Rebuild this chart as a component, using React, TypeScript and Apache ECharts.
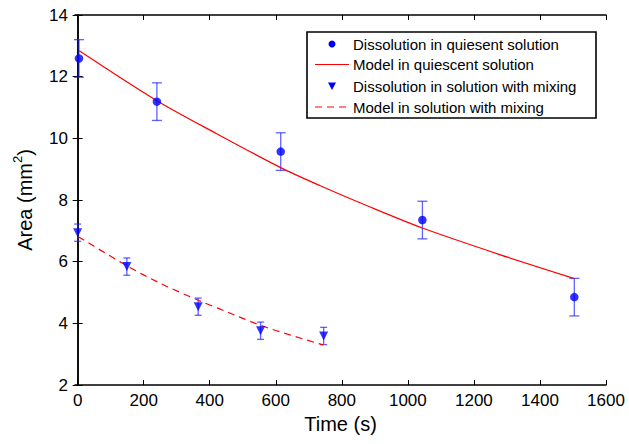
import React, { useEffect, useRef } from "react";
import * as echarts from "echarts";

// ---- data ----
const xTicks = [0, 200, 400, 600, 800, 1000, 1200, 1400, 1600];

const quiTime = [4, 240, 615, 1044, 1504];
const quiArea = [12.59, 11.19, 9.57, 7.35, 4.85];
const quiErr = [0.61, 0.61, 0.61, 0.61, 0.61];

const mixTime = [0, 149, 365, 554, 745];
const mixArea = [6.94, 5.84, 4.54, 3.76, 3.59];
const mixErr = [0.28, 0.28, 0.28, 0.28, 0.28];

const quiModelTime = [5, 240, 421, 615, 733, 875, 1044, 1278, 1502];
const quiModelArea = [12.84, 11.22, 10.15, 9.05, 8.47, 7.82, 7.09, 6.23, 5.46];

const mixModelTime = [2, 150, 250, 365, 450, 555, 650, 743];
const mixModelArea = [6.81, 5.86, 5.3, 4.75, 4.38, 3.93, 3.6, 3.3];

const legendLabels = [
  "Dissolution in quiesent solution",
  "Model in quiescent solution",
  "Dissolution in solution with mixing",
  "Model in solution with mixing",
];

const FONT = "'Liberation Sans', Arial, Helvetica, sans-serif";
const BLUE = "#0000ff";
const ERR = "rgba(30,30,255,0.7)";
const RED = "#ff0000";

function errorSeries(times: number[], vals: number[], errs: number[], cap: number) {
  return {
    type: "custom",
    z: 1,
    silent: true,
    data: times.map((t, i) => [t, vals[i] - errs[i], vals[i] + errs[i]]),
    encode: { x: 0, y: [1, 2] },
    renderItem: (params: any, api: any) => {
      const x = api.value(0);
      const lo = api.coord([x, api.value(1)]);
      const hi = api.coord([x, api.value(2)]);
      const st = { stroke: ERR, lineWidth: 1.3 };
      return {
        type: "group",
        children: [
          { type: "line", shape: { x1: lo[0], y1: lo[1], x2: hi[0], y2: hi[1] }, style: st },
          { type: "line", shape: { x1: lo[0] - cap, y1: lo[1], x2: lo[0] + cap, y2: lo[1] }, style: st },
          { type: "line", shape: { x1: hi[0] - cap, y1: hi[1], x2: hi[0] + cap, y2: hi[1] }, style: st },
        ],
      };
    },
  };
}

export default function App() {
  const ref = useRef<HTMLDivElement>(null);
  useEffect(() => {
    if (!ref.current) return;
    const chart = echarts.init(ref.current, undefined, { renderer: "svg" });
    const axisCommon = {
      axisLine: { show: true, lineStyle: { color: "#000", width: 1.5 } },
      splitLine: { show: false },
    };
    const legX = 307, legY = 32, rowY = [44, 64.5, 86, 107];
    const textStyle = { fontFamily: FONT, fontSize: 15, fill: "#000", verticalAlign: "middle" };
    chart.setOption({
      animation: false,
      backgroundColor: "#fff",
      textStyle: { fontFamily: FONT },
      grid: { left: 75, right: 23, top: 15, bottom: 59, containLabel: false },
      xAxis: [
        {
          type: "value",
          min: -8,
          max: 1600,
          position: "bottom",
          name: "Time (s)",
          nameLocation: "middle",
          nameGap: 26,
          nameTextStyle: { fontFamily: FONT, fontSize: 20, color: "#000" },
          ...axisCommon,
          axisTick: { show: true, inside: true, length: 5, customValues: xTicks, lineStyle: { color: "#000" } },
          axisLabel: {
            show: true,
            customValues: xTicks,
            margin: 7,
            fontFamily: FONT,
            fontSize: 17,
            color: "#000",
            formatter: (v: number) => String(v),
          },
        },
        {
          type: "value",
          min: -8,
          max: 1600,
          position: "top",
          ...axisCommon,
          axisTick: { show: true, inside: true, length: 5, customValues: xTicks, lineStyle: { color: "#000" } },
          axisLabel: { show: false },
        },
      ],
      yAxis: [
        {
          type: "value",
          min: 2,
          max: 14,
          interval: 2,
          position: "left",
          name: "{b|Area (mm}{s|2}{b|)}",
          nameLocation: "middle",
          nameGap: 40,
          nameTextStyle: {
            fontFamily: FONT,
            fontSize: 20,
            color: "#000",
            rich: {
              b: { fontFamily: FONT, fontSize: 20, color: "#000", lineHeight: 24, verticalAlign: "bottom" },
              s: { fontFamily: FONT, fontSize: 13, color: "#000", lineHeight: 24, verticalAlign: "top" },
            },
          },
          ...axisCommon,
          axisTick: { show: true, inside: true, length: 5, lineStyle: { color: "#000" } },
          axisLabel: { show: true, margin: 7, fontFamily: FONT, fontSize: 17, color: "#000" },
        },
        {
          type: "value",
          min: 2,
          max: 14,
          interval: 2,
          position: "right",
          ...axisCommon,
          axisTick: { show: true, inside: true, length: 5, lineStyle: { color: "#000" } },
          axisLabel: { show: false },
        },
      ],
      series: [
        errorSeries(quiTime, quiArea, quiErr, 5),
        errorSeries(mixTime, mixArea, mixErr, 3.5),
        {
          name: legendLabels[1],
          type: "line",
          data: quiModelTime.map((t, i) => [t, quiModelArea[i]]),
          smooth: 0.3,
          showSymbol: false,
          lineStyle: { color: RED, width: 1.2 },
          z: 2,
        },
        {
          name: legendLabels[3],
          type: "line",
          data: mixModelTime.map((t, i) => [t, mixModelArea[i]]),
          smooth: 0.3,
          showSymbol: false,
          lineStyle: { color: RED, width: 1.2, type: [7, 5] },
          z: 2,
        },
        {
          name: legendLabels[0],
          type: "scatter",
          data: quiTime.map((t, i) => [t, quiArea[i]]),
          symbol: "circle",
          symbolSize: 8.5,
          itemStyle: { color: BLUE },
          z: 3,
        },
        {
          name: legendLabels[2],
          type: "scatter",
          data: mixTime.map((t, i) => [t, mixArea[i]]),
          symbol: "triangle",
          symbolRotate: 180,
          symbolSize: 9,
          itemStyle: { color: BLUE },
          z: 3,
        },
      ],
      graphic: [
        {
          type: "rect",
          z: 10,
          shape: { x: legX, y: legY, width: 289, height: 86 },
          style: { fill: "#fff", stroke: "#000", lineWidth: 1.6 },
        },
        { type: "circle", z: 11, shape: { cx: 332, cy: rowY[0], r: 3.5 }, style: { fill: BLUE } },
        { type: "line", z: 11, shape: { x1: 315, y1: rowY[1], x2: 349, y2: rowY[1] }, style: { stroke: RED, lineWidth: 1.2 } },
        {
          type: "polygon",
          z: 11,
          shape: { points: [[328, rowY[2] - 3.5], [336, rowY[2] - 3.5], [332, rowY[2] + 4]] },
          style: { fill: BLUE },
        },
        {
          type: "line",
          z: 11,
          shape: { x1: 315, y1: rowY[3], x2: 349, y2: rowY[3] },
          style: { stroke: RED, lineWidth: 1.2, lineDash: [7, 5] },
        },
        ...legendLabels.map((txt, i) => ({
          type: "text",
          z: 11,
          x: 353,
          y: rowY[i],
          style: { ...textStyle, text: txt },
        })),
      ],
    });
    return () => chart.dispose();
  }, []);
  return (
    <div
      ref={ref}
      style={{ position: "fixed", left: 0, top: 0, width: 629, height: 444, background: "#fff" }}
    />
  );
}
